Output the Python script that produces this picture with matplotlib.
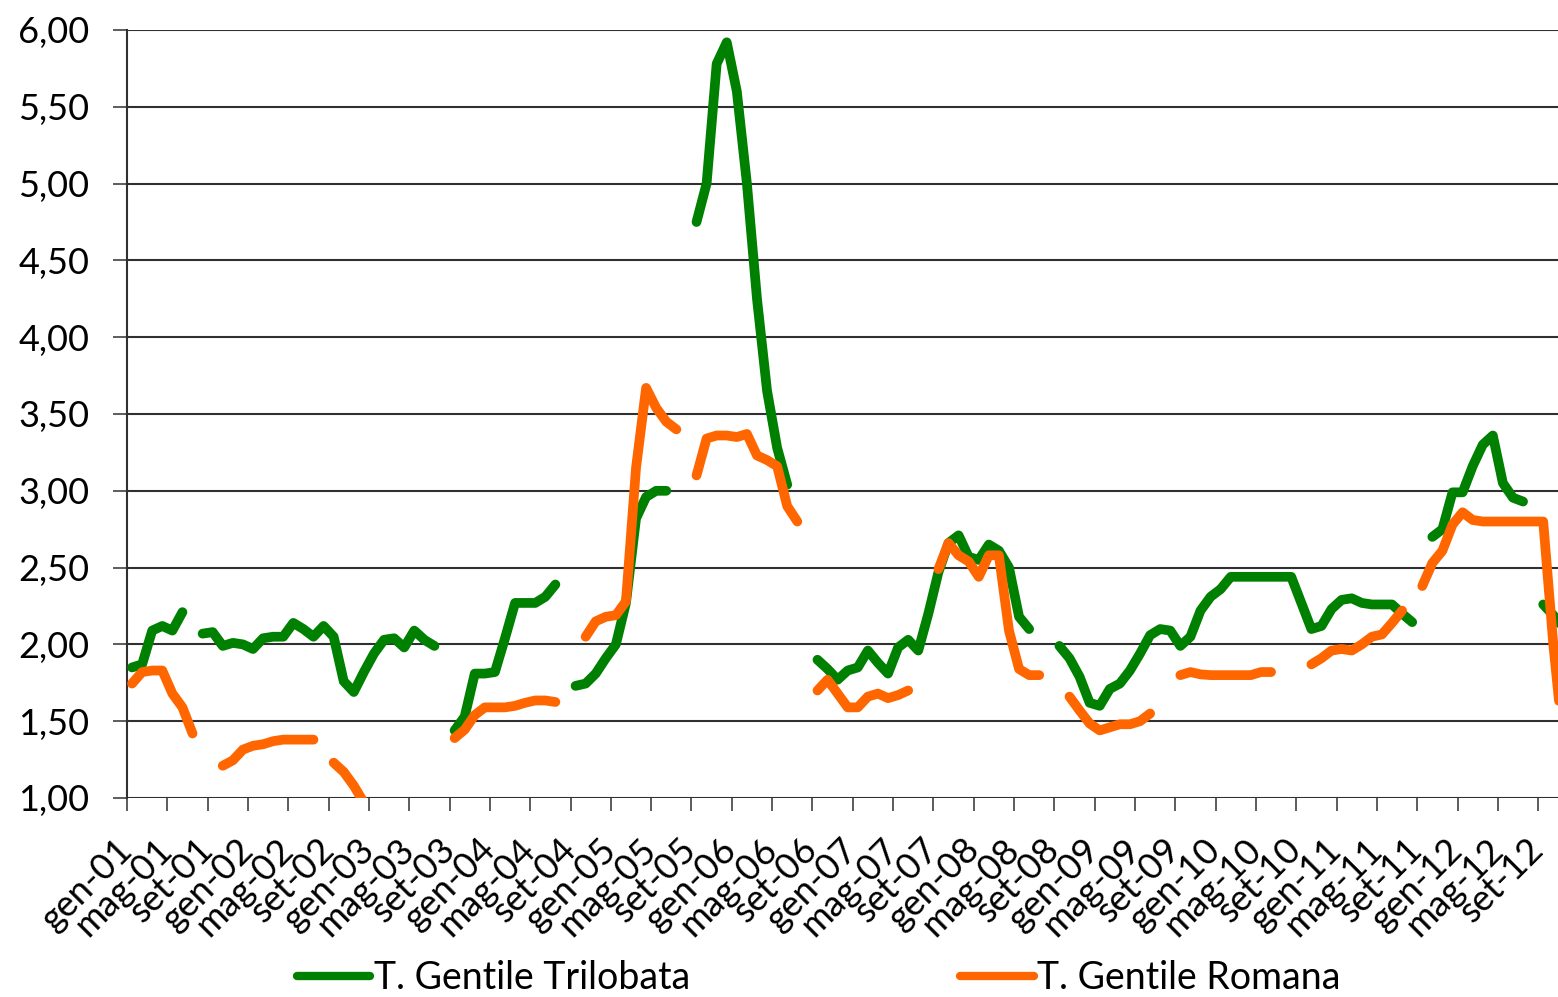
import numpy as np
import matplotlib
matplotlib.use("Agg")
from matplotlib import pyplot as plt
from matplotlib.ticker import FixedLocator, FuncFormatter

nan = np.nan

# monthly prices, gen-01 .. dic-12 (gaps = no quotation)
trilobata = [
    1.85, 1.87, 2.09, 2.12, 2.09, 2.21, nan, 2.07, 2.08, 1.99, 2.01, 2.00,
    1.97, 2.04, 2.05, 2.05, 2.14, 2.10, 2.05, 2.12, 2.05, 1.76, 1.69, 1.82,
    1.94, 2.03, 2.04, 1.98, 2.09, 2.03, 1.99, nan, 1.44, 1.53, 1.81, 1.81,
    1.82, 2.04, 2.27, 2.27, 2.27, 2.31, 2.39, nan, 1.73, 1.745, 1.81, 1.91,
    2.00, 2.27, 2.82, 2.96, 3.00, 3.00, nan, nan, 4.75, 5.00, 5.78, 5.92,
    5.60, 5.00, 4.25, 3.65, 3.28, 3.04, nan, nan, 1.90, 1.84, 1.77, 1.83,
    1.85, 1.96, 1.88, 1.81, 1.98, 2.03, 1.96, 2.20, 2.47, 2.66, 2.71, 2.57,
    2.55, 2.65, 2.61, 2.50, 2.18, 2.10, nan, nan, 1.99, 1.91, 1.79, 1.62,
    1.60, 1.71, 1.745, 1.83, 1.94, 2.06, 2.10, 2.09, 1.99, 2.05, 2.22, 2.31,
    2.36, 2.44, 2.44, 2.44, 2.44, 2.44, 2.44, 2.44, 2.27, 2.10, 2.12, 2.23,
    2.29, 2.30, 2.27, 2.26, 2.26, 2.26, 2.20, 2.145, nan, 2.70, 2.75, 2.99,
    2.99, 3.16, 3.30, 3.36, 3.05, 2.955, 2.93, nan, 2.26, 2.19, 2.10, nan,
]
romana = [
    1.745, 1.82, 1.83, 1.83, 1.68, 1.59, 1.42, nan, nan, 1.21, 1.245, 1.315,
    1.34, 1.35, 1.37, 1.38, 1.38, 1.38, 1.38, nan, 1.23, 1.17, 1.08, 0.97,
    nan, nan, nan, nan, nan, nan, nan, nan, 1.39, 1.445, 1.54, 1.59,
    1.59, 1.59, 1.60, 1.62, 1.635, 1.635, 1.625, nan, nan, 2.05, 2.15, 2.18,
    2.19, 2.28, 3.15, 3.67, 3.54, 3.45, 3.40, nan, 3.10, 3.34, 3.36, 3.36,
    3.35, 3.37, 3.23, 3.20, 3.16, 2.90, 2.80, nan, 1.70, 1.77, 1.68, 1.59,
    1.59, 1.66, 1.68, 1.65, 1.67, 1.70, nan, nan, 2.49, 2.66, 2.58, 2.54,
    2.44, 2.58, 2.58, 2.09, 1.84, 1.80, 1.80, nan, nan, 1.66, 1.57, 1.485,
    1.44, 1.46, 1.48, 1.48, 1.50, 1.55, nan, nan, 1.80, 1.82, 1.805, 1.80,
    1.80, 1.80, 1.80, 1.80, 1.82, 1.82, nan, nan, nan, 1.87, 1.91, 1.96,
    1.97, 1.96, 2.00, 2.05, 2.065, 2.14, 2.22, nan, 2.38, 2.53, 2.61, 2.78,
    2.86, 2.81, 2.80, 2.80, 2.80, 2.80, 2.80, 2.80, 2.80, 2.00, 1.35, nan,
]
mesi = ["gen", "feb", "mar", "apr", "mag", "giu", "lug", "ago", "set", "ott", "nov", "dic"]
anni = list(range(1, 13))
labels = [f"{m}-{a:02d}" for a in anni for m in mesi]

GREEN = "#008000"
ORANGE = "#FF6600"
FONT = "Lato"

plt.rcParams["font.family"] = [FONT, "DejaVu Sans"]

W, H = 1558, 997
fig = plt.figure(figsize=(W / 100, H / 100), dpi=100)
# plot area runs a little past the right edge (reference is cropped there)
ax = fig.add_axes([127 / W, 1 - 798 / H, 1451.5 / W, 768 / H])

x = np.arange(len(labels))
lw = 7.0
ax.plot(x, trilobata, color=GREEN, lw=lw, solid_capstyle="round",
        solid_joinstyle="round", label="T. Gentile Trilobata", zorder=3)
ax.plot(x, romana, color=ORANGE, lw=lw, solid_capstyle="round",
        solid_joinstyle="round", label="T. Gentile Romana", zorder=4)

ax.set_xlim(-0.5, len(labels) - 0.5)
ax.set_ylim(1.0, 6.0)

yt = np.arange(1.0, 6.01, 0.5)
ax.set_yticks(yt)
ax.yaxis.set_major_formatter(FuncFormatter(lambda v, p: f"{v:.2f}".replace(".", ",")))
for v in yt:
    ax.axhline(v, color="#303030", lw=1.5, zorder=1)

ticks = np.arange(0, len(labels), 4) - 0.5
ax.xaxis.set_major_locator(FixedLocator(ticks))
ax.set_xticklabels([labels[i] for i in range(0, len(labels), 4)],
                   rotation=45, ha="right", va="center", rotation_mode="anchor")

for s in ["top", "right", "bottom"]:
    ax.spines[s].set_visible(False)
ax.spines["left"].set_color("#303030")
ax.spines["left"].set_linewidth(1.5)
ax.tick_params(axis="y", direction="out", length=10, width=1.1, color="#303030",
               labelsize=26, pad=17, labelcolor="black")
ax.tick_params(axis="x", direction="out", length=9, width=1.1, color="#303030",
               labelsize=26, pad=24, labelcolor="black")

leg = fig.legend(loc="center", bbox_to_anchor=(819 / W, 1 - 978 / H), ncol=2,
                 frameon=False, fontsize=27, handlelength=1.95, handletextpad=0.1,
                 columnspacing=7.2, borderaxespad=0, borderpad=0)
for h in leg.get_lines():
    h.set_linewidth(6)
    h.set_solid_capstyle("round")

fig.savefig("out.png", dpi=100)
